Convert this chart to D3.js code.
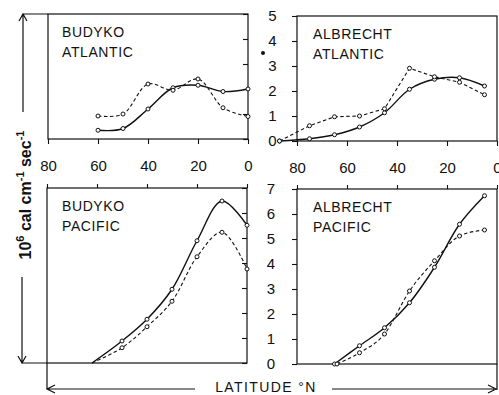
<!DOCTYPE html>
<html>
<head>
<meta charset="utf-8">
<script src="https://cdn.jsdelivr.net/npm/d3@7"></script>
<style>
  body { margin: 0; background: #fff; }
  svg { display: block; }
  text { font-family: "Liberation Sans", Arial, sans-serif; fill: #111; }
</style>
</head>
<body>
<div id="chart"></div>
<script>
// transport in 10^6 cal cm^-1 sec^-1 against latitude (°N)
const latBudykoAtl = [60, 50, 40, 30, 20, 10, 0];
const budykoAtlSolid = [0.35, 0.42, 1.2, 2.05, 2.15, 1.9, 2.0];
const budykoAtlDashed = [0.92, 1.0, 2.2, 1.95, 2.4, 1.25, 0.9];

const latAlbrechtAtl = [87, 75, 65, 55, 45, 35, 25, 15, 5];
const albrechtAtlSolid = [0, 0.09, 0.25, 0.56, 1.13, 2.07, 2.47, 2.53, 2.2];
const albrechtAtlDashed = [0, 0.61, 0.97, 1.0, 1.29, 2.91, 2.57, 2.35, 1.85];

const latBudykoPac = [62, 50, 40, 30, 20, 10, 0];
const budykoPacSolid = [0, 0.88, 1.75, 2.95, 4.89, 6.48, 5.51];
const budykoPacDashed = [0, 0.61, 1.45, 2.47, 4.25, 5.23, 3.76];

const latAlbrechtPacSolid = [65, 55, 45, 35, 25, 15, 5];
const latAlbrechtPacDashed = [64, 55, 45, 35, 25, 15, 5];
const albrechtPacSolid = [0, 0.73, 1.45, 2.45, 3.87, 5.59, 6.73];
const albrechtPacDashed = [0, 0.45, 1.2, 2.92, 4.13, 5.12, 5.36];

const latTicks = [80, 60, 40, 20, 0];
const atlTicks = [0, 1, 2, 3, 4, 5];
const pacTicks = [0, 1, 2, 3, 4, 5, 6, 7];

const width = 499, height = 395;
const ink = "#111";

const svg = d3.select("#chart").append("svg")
    .attr("width", width)
    .attr("height", height);

const panels = [
  { name: ["BUDYKO", "ATLANTIC"], x0: 48, x1: 248, y0: 139, y1: 14, ticks: atlTicks, row: "top", side: "left",
    solid: d3.zip(latBudykoAtl, budykoAtlSolid), dashed: d3.zip(latBudykoAtl, budykoAtlDashed),
    dashCurve: d3.curveCatmullRom, skipFirst: false },
  { name: ["ALBRECHT", "ATLANTIC"], x0: 297, x1: 497, y0: 141, y1: 16, ticks: atlTicks, row: "top", side: "right",
    solid: d3.zip(latAlbrechtAtl, albrechtAtlSolid), dashed: d3.zip(latAlbrechtAtl, albrechtAtlDashed),
    dashCurve: d3.curveLinear, skipFirst: false },
  { name: ["BUDYKO", "PACIFIC"], x0: 47, x1: 247, y0: 363, y1: 188, ticks: pacTicks, row: "bottom", side: "left",
    solid: d3.zip(latBudykoPac, budykoPacSolid), dashed: d3.zip(latBudykoPac, budykoPacDashed),
    dashCurve: d3.curveCatmullRom, skipFirst: true },
  { name: ["ALBRECHT", "PACIFIC"], x0: 297, x1: 497, y0: 364, y1: 189, ticks: pacTicks, row: "bottom", side: "right",
    solid: d3.zip(latAlbrechtPacSolid, albrechtPacSolid), dashed: d3.zip(latAlbrechtPacDashed, albrechtPacDashed),
    dashCurve: d3.curveMonotoneX, skipFirst: false }
];

panels.forEach(p => {
  const x = d3.scaleLinear().domain([80, 0]).range([p.x0, p.x1]);
  const y = d3.scaleLinear().domain([0, d3.max(p.ticks)]).range([p.y0, p.y1]);
  const g = svg.append("g");

  // frame
  g.append("rect")
      .attr("x", p.x0).attr("y", p.y1)
      .attr("width", p.x1 - p.x0).attr("height", p.y0 - p.y1)
      .attr("fill", "none").attr("stroke", ink).attr("stroke-width", 1.2);

  // latitude ticks
  if (p.row === "top") {
    const ax = g.append("g")
        .attr("transform", `translate(0,${p.y0})`)
        .call(d3.axisBottom(x).tickValues(latTicks).tickSize(5).tickPadding(16).tickSizeOuter(0));
    ax.selectAll("text").attr("font-size", 15).attr("font-family", null).attr("fill", ink);
    ax.select(".domain").remove();
  } else {
    const ax = g.append("g")
        .attr("transform", `translate(0,${p.y1})`)
        .call(d3.axisTop(x).tickValues(latTicks).tickSize(4).tickFormat("").tickSizeOuter(0));
    ax.select(".domain").remove();
  }

  // transport ticks
  if (p.side === "left") {
    const ay = g.append("g")
        .attr("transform", `translate(${p.x1},0)`)
        .call(d3.axisRight(y).tickValues(p.ticks).tickSize(-5).tickFormat("").tickSizeOuter(0));
    ay.select(".domain").remove();
  } else {
    const ay = g.append("g")
        .attr("transform", `translate(${p.x0},0)`)
        .call(d3.axisLeft(y).tickValues(p.ticks).tickFormat(d3.format("d")).tickSize(5).tickSizeOuter(0));
    ay.select(".domain").remove();
    ay.selectAll("text")
        .attr("x", p.row === "top" ? -24.5 : -26)
        .attr("text-anchor", "middle")
        .attr("font-size", 15).attr("font-family", null).attr("fill", ink);
  }
  g.selectAll(".tick line").attr("stroke", ink).attr("stroke-width", 1.1);

  // panel name
  const name = g.append("text")
      .attr("x", p.side === "left" ? 62 : 313)
      .attr("y", p.y1 + 23)
      .attr("font-size", 14)
      .attr("letter-spacing", 0.6);
  name.selectAll("tspan").data(p.name).join("tspan")
      .attr("x", p.side === "left" ? 62 : 313)
      .attr("dy", (d, i) => i ? 20 : 0)
      .text(d => d);

  // curves
  const solidLine = d3.line().x(d => x(d[0])).y(d => y(d[1])).curve(d3.curveCatmullRom);
  const dashLine = d3.line().x(d => x(d[0])).y(d => y(d[1])).curve(p.dashCurve);

  g.append("path").datum(p.dashed)
      .attr("d", dashLine)
      .attr("fill", "none").attr("stroke", ink)
      .attr("stroke-width", 1.1).attr("stroke-dasharray", "3.5,2.5");
  g.append("path").datum(p.solid)
      .attr("d", solidLine)
      .attr("fill", "none").attr("stroke", ink)
      .attr("stroke-width", 1.4);

  const pts = p.skipFirst ? p.solid.slice(1).concat(p.dashed.slice(1)) : p.solid.concat(p.dashed);
  g.selectAll("circle.pt").data(pts).join("circle")
      .attr("class", "pt")
      .attr("cx", d => x(d[0])).attr("cy", d => y(d[1]))
      .attr("r", 2)
      .attr("fill", "#fff").attr("stroke", ink).attr("stroke-width", 1);
});

// outer frame and axis arrows
const frame = svg.append("g").attr("fill", "none").attr("stroke", ink).attr("stroke-width", 1.2);
frame.append("path").attr("d", "M23,112 V14 H48 M19,21 L23,14 L27,21");
frame.append("path").attr("d", "M22,277 V363 H47 M18,356 L22,363 L26,356");
frame.append("path").attr("d", "M47,363 V389 H195 M55,385 L47,389 L55,393");
frame.append("path").attr("d", "M497,364 V390 M332,389 H494 M488,385 L496,389 L488,393");

// stray dot in the scan
svg.append("circle").attr("cx", 263).attr("cy", 53).attr("r", 2).attr("fill", ink);

// axis titles
const yt = svg.append("text")
    .attr("transform", "translate(31,195) rotate(-90)")
    .attr("text-anchor", "middle")
    .attr("font-size", 16)
    .attr("font-weight", "bold");
yt.append("tspan").text("10");
yt.append("tspan").attr("font-size", 11).attr("dy", -7).text("6");
yt.append("tspan").attr("dy", 7).text(" cal cm");
yt.append("tspan").attr("font-size", 11).attr("dy", -7).text("-1");
yt.append("tspan").attr("dy", 7).text(" sec");
yt.append("tspan").attr("font-size", 11).attr("dy", -7).text("-1");

svg.append("text")
    .attr("x", 266).attr("y", 392)
    .attr("text-anchor", "middle")
    .attr("font-size", 14)
    .attr("letter-spacing", 1.4)
    .text("LATITUDE °N");
</script>
</body>
</html>
